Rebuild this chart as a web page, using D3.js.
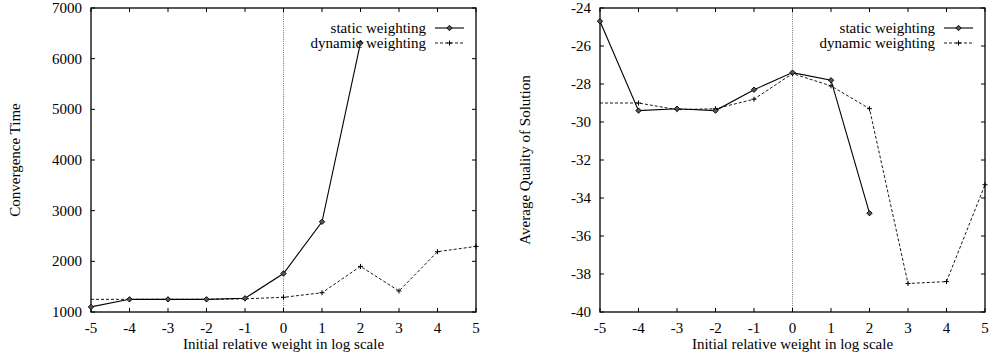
<!DOCTYPE html>
<html><head><meta charset="utf-8">
<script src="https://cdn.jsdelivr.net/npm/d3@7"></script>
<style>body{margin:0;background:#fff}svg{display:block}text{font-family:"Liberation Serif","DejaVu Serif",serif;fill:#000}</style>
</head><body><svg id="c" width="989" height="358"></svg>
<script>
const xVals = [-5,-4,-3,-2,-1,0,1,2,3,4,5];
const xTicks = [-5,-4,-3,-2,-1,0,1,2,3,4,5];
const convStatic = [1100,1250,1250,1250,1270,1760,2780,6310];
const convDynamic = [1250,1250,1250,1250,1260,1290,1380,1900,1415,2190,2295];
const convTicks = [1000,2000,3000,4000,5000,6000,7000];
const qualStatic = [-24.7,-29.4,-29.3,-29.4,-28.3,-27.4,-27.8,-34.8];
const qualDynamic = [-29.0,-29.0,-29.35,-29.3,-28.8,-27.45,-28.1,-29.3,-38.5,-38.4,-33.3];
const qualTicks = [-40,-38,-36,-34,-32,-30,-28,-26,-24];
const seriesNames = ["static weighting","dynamic weighting"];
const xTitle = "Initial relative weight in log scale";

const svg = d3.select("#c");
const FS = 15;

function panel(o){
  const g = svg.append("g");
  const x = d3.scaleLinear().domain([-5,5]).range([o.x0,o.x1]);
  const y = d3.scaleLinear().domain(o.ydom).range([o.y1,o.y0]);
  g.append("line").attr("x1",x(0)).attr("x2",x(0)).attr("y1",o.y0).attr("y2",o.y1)
    .attr("stroke","#777").attr("stroke-width",1).attr("stroke-dasharray","1,1.2");
  const tl=4;
  xTicks.forEach(t=>{
    g.append("line").attr("x1",x(t)).attr("x2",x(t)).attr("y1",o.y1).attr("y2",o.y1-tl).attr("stroke","#000");
    g.append("line").attr("x1",x(t)).attr("x2",x(t)).attr("y1",o.y0).attr("y2",o.y0+tl).attr("stroke","#000");
    g.append("text").attr("x",x(t)).attr("y",o.y1+21).attr("text-anchor","middle").attr("font-size",FS).text(t);
  });
  o.yticks.forEach(t=>{
    g.append("line").attr("x1",o.x0).attr("x2",o.x0+tl).attr("y1",y(t)).attr("y2",y(t)).attr("stroke","#000");
    g.append("line").attr("x1",o.x1).attr("x2",o.x1-tl).attr("y1",y(t)).attr("y2",y(t)).attr("stroke","#000");
    g.append("text").attr("x",o.x0-9).attr("y",y(t)+5).attr("text-anchor","end").attr("font-size",FS).text(t);
  });
  g.append("rect").attr("x",o.x0).attr("y",o.y0).attr("width",o.x1-o.x0).attr("height",o.y1-o.y0)
    .attr("fill","none").attr("stroke","#000").attr("stroke-width",1.3);
  const cid="clip"+o.id;
  svg.append("clipPath").attr("id",cid).append("rect").attr("x",o.x0).attr("y",o.y0).attr("width",o.x1-o.x0).attr("height",o.y1-o.y0);
  const line = d3.line().x((d,i)=>x(xVals[i])).y(d=>y(d));
  const pg = g.append("g").attr("clip-path",`url(#${cid})`);
  pg.append("path").attr("d",line(o.dyn)).attr("fill","none").attr("stroke","#000").attr("stroke-width",0.9).attr("stroke-dasharray","3,2");
  pg.append("path").attr("d",line(o.sta)).attr("fill","none").attr("stroke","#000").attr("stroke-width",1.1);
  const plus=(px,py)=>{g.append("path").attr("d",`M${px-2.5},${py}H${px+2.5}M${px},${py-2.5}V${py+2.5}`).attr("stroke","#000").attr("stroke-width",1);};
  const diamond=(px,py)=>{g.append("path").attr("d",`M${px},${py-2.7}L${px+2.7},${py}L${px},${py+2.7}L${px-2.7},${py}Z`).attr("fill","#555").attr("stroke","#000").attr("stroke-width",0.9);};
  o.dyn.forEach((d,i)=>{ if(i>0) plus(x(xVals[i]),y(d)); });
  o.sta.forEach((d,i)=>diamond(x(xVals[i]),y(d)));
  const lx=o.x1-50, ly=[28,43];
  g.append("text").attr("x",lx).attr("y",ly[0]+5).attr("text-anchor","end").attr("font-size",FS).text(seriesNames[0]);
  g.append("text").attr("x",lx).attr("y",ly[1]+5).attr("text-anchor","end").attr("font-size",FS).text(seriesNames[1]);
  g.append("line").attr("x1",lx+9).attr("x2",lx+38).attr("y1",ly[0]).attr("y2",ly[0]).attr("stroke","#000").attr("stroke-width",1.1);
  diamond(lx+23.5,ly[0]);
  g.append("line").attr("x1",lx+9).attr("x2",lx+38).attr("y1",ly[1]).attr("y2",ly[1]).attr("stroke","#000").attr("stroke-width",0.9).attr("stroke-dasharray","3,2");
  plus(lx+23.5,ly[1]);
  g.append("text").attr("x",(o.x0+o.x1)/2).attr("y",o.y1+37).attr("text-anchor","middle").attr("font-size",FS).text(xTitle);
  g.append("text").attr("transform",`translate(${o.ytx},${(o.y0+o.y1)/2}) rotate(-90)`).attr("text-anchor","middle").attr("font-size",FS).text(o.ytitle);
}

panel({id:1,x0:91,x1:476,y0:8,y1:312,ydom:[1000,7000],yticks:convTicks,sta:convStatic,dyn:convDynamic,ytitle:"Convergence Time",ytx:20});
panel({id:2,x0:600,x1:985,y0:8,y1:312,ydom:[-40,-24],yticks:qualTicks,sta:qualStatic,dyn:qualDynamic,ytitle:"Average Quality of Solution",ytx:530});
</script></body></html>
